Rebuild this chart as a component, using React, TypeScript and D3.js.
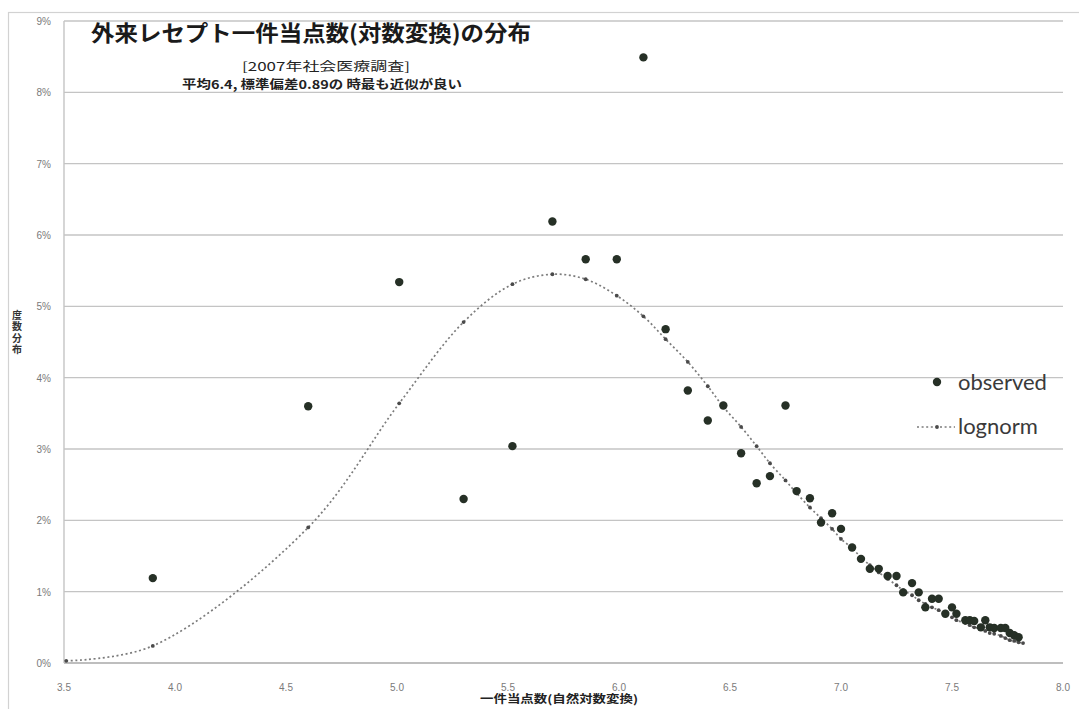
import * as d3 from 'd3'
import React from 'react'

// x = ln(点数) of each bin, observed share (%) and lognorm fit (%)
const binX = [
  3.51, 3.9, 4.6, 5.01, 5.3, 5.52, 5.7, 5.85, 5.99, 6.11, 6.21, 6.31, 6.4, 6.47,
  6.55, 6.62, 6.68, 6.75, 6.8, 6.86, 6.91, 6.96, 7.0, 7.05, 7.09, 7.13, 7.17,
  7.21, 7.25, 7.28, 7.32, 7.35, 7.38, 7.41, 7.44, 7.47, 7.5, 7.52, 7.56, 7.58,
  7.6, 7.63, 7.65, 7.67, 7.69, 7.72, 7.74, 7.76, 7.78, 7.8, 7.82
]
const observed = [
  null, 1.19, 3.6, 5.34, 2.3, 3.04, 6.19, 5.66, 5.66, 8.49, 4.68, 3.82, 3.4, 3.61,
  2.94, 2.52, 2.62, 3.61, 2.41, 2.31, 1.97, 2.1, 1.88, 1.62, 1.46, 1.32, 1.32,
  1.22, 1.22, 0.99, 1.12, 0.99, 0.78, 0.9, 0.9, 0.69, 0.78, 0.69, 0.6, 0.6,
  0.59, 0.5, 0.6, 0.5, 0.49, 0.49, 0.49, 0.42, 0.39, 0.36, null
]
const lognorm = [
  0.03, 0.24, 1.9, 3.64, 4.78, 5.31, 5.45, 5.38, 5.15, 4.86, 4.54, 4.22, 3.88, 3.59,
  3.31, 3.04, 2.8, 2.56, 2.38, 2.18, 2.03, 1.88, 1.74, 1.61, 1.48, 1.37, 1.27,
  1.18, 1.09, 1.02, 0.95, 0.88, 0.83, 0.78, 0.74, 0.69, 0.64, 0.6, 0.56, 0.53,
  0.5, 0.48, 0.45, 0.42, 0.41, 0.38, 0.35, 0.32, 0.31, 0.29, 0.28
]
const xTicks = [3.5, 4.0, 4.5, 5.0, 5.5, 6.0, 6.5, 7.0, 7.5, 8.0]
const yTicks = [0, 1, 2, 3, 4, 5, 6, 7, 8, 9]

const W = 1079
const H = 709
const m = { left: 64, right: 1063, top: 21, bottom: 663 }

const tickFont = '"Liberation Sans", Arial, sans-serif'
const jpFont = '"Noto Sans CJK JP", sans-serif'

export default function App() {
  const x = d3.scaleLinear().domain([3.5, 8.0]).range([m.left, m.right])
  const y = d3.scaleLinear().domain([0, 9]).range([m.bottom, m.top])

  const fitPts = binX.map((v, i) => [v, lognorm[i]] as [number, number])
  const obsPts = binX
    .map((v, i) => ({ v, p: observed[i] }))
    .filter(d => d.p !== null) as { v: number; p: number }[]

  const line = d3
    .line<[number, number]>()
    .x(d => x(d[0]))
    .y(d => y(d[1]))
    .curve(d3.curveCatmullRom.alpha(0.5))

  return (
    <svg
      width={W}
      height={H}
      style={{ position: 'absolute', left: 0, top: 0, background: '#fff' }}
    >
      <rect x={8.5} y={12.5} width={1090} height={710} fill="#fff" stroke="#d2d2d2" strokeWidth={1.2} />

      {/* grid */}
      {yTicks.map(t => (
        <line
          key={'g' + t}
          x1={m.left}
          x2={m.right}
          y1={y(t)}
          y2={y(t)}
          stroke={t === 0 ? '#a8a8a8' : '#c4c4c4'}
          strokeWidth={1.4}
        />
      ))}
      <line x1={m.left} x2={m.left} y1={m.top} y2={m.bottom} stroke="#c4c4c4" strokeWidth={1.4} />

      {/* y labels */}
      {yTicks.map(t => (
        <text
          key={'y' + t}
          x={51}
          y={y(t) + 4}
          textAnchor="end"
          fontFamily={tickFont}
          fontSize={10}
          fill="#7a7a7a"
        >
          {t + '%'}
        </text>
      ))}
      {/* x labels */}
      {xTicks.map(t => (
        <text
          key={'x' + t}
          x={x(t)}
          y={691}
          textAnchor="middle"
          fontFamily={tickFont}
          fontSize={10}
          fill="#7a7a7a"
        >
          {d3.format('.1f')(t)}
        </text>
      ))}

      {/* fitted curve */}
      <path
        d={line(fitPts) || ''}
        fill="none"
        stroke="#7c7c7c"
        strokeWidth={1.7}
        strokeDasharray="2,2.6"
      />
      {fitPts.map((d, i) => (
        <circle key={'f' + i} cx={x(d[0])} cy={y(d[1])} r={1.9} fill="#4a4a4a" />
      ))}

      {/* observed */}
      {obsPts.map((d, i) => (
        <circle key={'o' + i} cx={x(d.v)} cy={y(d.p)} r={4.2} fill="#263026" />
      ))}

      {/* titles */}
      <text
        x={311}
        y={41}
        textAnchor="middle"
        fontFamily={jpFont}
        fontWeight={700}
        fontSize={22}
        fill="#1a1a1a"
        textLength={440}
        lengthAdjust="spacingAndGlyphs"
      >
        外来レセプト一件当点数(対数変換)の分布
      </text>
      <text
        x={326}
        y={71}
        textAnchor="middle"
        fontFamily={jpFont}
        fontSize={12}
        fill="#222"
        textLength={168}
        lengthAdjust="spacingAndGlyphs"
      >
        [2007年社会医療調査]
      </text>
      <text
        x={322}
        y={89}
        textAnchor="middle"
        fontFamily={jpFont}
        fontWeight={700}
        fontSize={12}
        fill="#222"
        textLength={280}
        lengthAdjust="spacingAndGlyphs"
      >
        平均6.4, 標準偏差0.89の 時最も近似が良い
      </text>

      {/* axis titles */}
      <text
        x={17}
        y={310}
        fontFamily={jpFont}
        fontWeight={700}
        fontSize={10}
        fill="#333"
        style={{ writingMode: 'vertical-rl', letterSpacing: 1.5 }}
      >
        度数分布
      </text>
      <text
        x={559}
        y={703}
        textAnchor="middle"
        fontFamily={jpFont}
        fontWeight={700}
        fontSize={11}
        fill="#222"
        textLength={158}
        lengthAdjust="spacingAndGlyphs"
      >
        一件当点数(自然対数変換)
      </text>

      {/* legend */}
      <circle cx={937} cy={382} r={4.2} fill="#263026" />
      <text x={958} y={390} fontFamily="Lato, sans-serif" fontSize={22} fill="#3a3a3a">
        observed
      </text>
      <line x1={917} x2={955} y1={427} y2={427} stroke="#7c7c7c" strokeWidth={1.7} strokeDasharray="2,2.6" />
      <circle cx={937} cy={427} r={1.9} fill="#4a4a4a" />
      <text x={958} y={434} fontFamily="Lato, sans-serif" fontSize={22} fill="#3a3a3a">
        lognorm
      </text>
    </svg>
  )
}
